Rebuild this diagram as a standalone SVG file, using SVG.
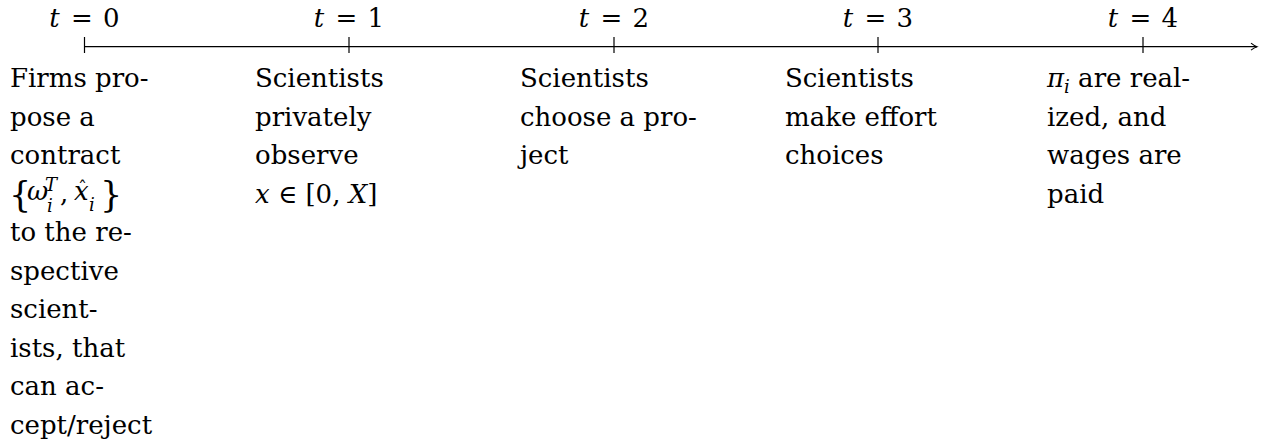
<svg xmlns="http://www.w3.org/2000/svg" width="1278" height="446" viewBox="0 0 1278 446">
<style>
text{font-family:'DejaVu Serif','Liberation Serif',serif;font-size:26px;fill:#000}
.it{font-style:italic}
.s{font-size:18px}
.br{font-size:35px}
.ax{stroke:#000;stroke-width:1.2;fill:none}
</style>
<defs>
<marker id="arr" markerWidth="10" markerHeight="10" refX="8" refY="5" orient="auto" markerUnits="userSpaceOnUse">
<path d="M2,1.5 Q5,4 8,5 Q5,6 2,8.5" stroke="#000" stroke-width="1.1" fill="none"/>
</marker>
</defs>
<rect width="1278" height="446" fill="#fff"/>
<g id="connectors">
<line class="ax" x1="84.5" y1="46.7" x2="1257" y2="46.7" marker-end="url(#arr)"/>
</g>
<g id="t0">
<line class="ax" x1="84.5" y1="37" x2="84.5" y2="53"/>
<text x="84.5" y="27" text-anchor="middle"><tspan class="it">t</tspan><tspan dx="3"> = </tspan><tspan dx="2">0</tspan></text>
<text x="10" y="87">Firms pro-</text>
<text x="10" y="125.5">pose a</text>
<text x="10" y="164">contract</text>
<text x="9" y="207"><tspan class="br">{</tspan><tspan class="it" x="27" y="200">ω</tspan><tspan class="it s" x="45" y="191">T</tspan><tspan class="it s" x="47" y="212">i</tspan><tspan x="60" y="202">,</tspan><tspan class="it" x="74" y="200">x</tspan><tspan class="s" x="78" y="195">ˆ</tspan><tspan class="it s" x="89" y="211">i</tspan><tspan class="br" x="100" y="207">}</tspan></text>
<text x="10" y="241">to the re-</text>
<text x="10" y="279.5">spective</text>
<text x="10" y="318">scient-</text>
<text x="10" y="356.5">ists, that</text>
<text x="10" y="395">can ac-</text>
<text x="10" y="433.5">cept/reject</text>
</g>
<g id="t1">
<line class="ax" x1="349" y1="37" x2="349" y2="53"/>
<text x="349" y="27" text-anchor="middle"><tspan class="it">t</tspan><tspan dx="3"> = </tspan><tspan dx="2">1</tspan></text>
<text x="255" y="87">Scientists</text>
<text x="255" y="125.5">privately</text>
<text x="255" y="164">observe</text>
<text x="255" y="202.5"><tspan class="it">x</tspan> ∈ [0, <tspan class="it">X</tspan>]</text>
</g>
<g id="t2">
<line class="ax" x1="614" y1="37" x2="614" y2="53"/>
<text x="614" y="27" text-anchor="middle"><tspan class="it">t</tspan><tspan dx="3"> = </tspan><tspan dx="2">2</tspan></text>
<text x="520" y="87">Scientists</text>
<text x="520" y="125.5">choose a pro-</text>
<text x="520" y="164">ject</text>
</g>
<g id="t3">
<line class="ax" x1="878" y1="37" x2="878" y2="53"/>
<text x="878" y="27" text-anchor="middle"><tspan class="it">t</tspan><tspan dx="3"> = </tspan><tspan dx="2">3</tspan></text>
<text x="785" y="87">Scientists</text>
<text x="785" y="125.5">make effort</text>
<text x="785" y="164">choices</text>
</g>
<g id="t4">
<line class="ax" x1="1143" y1="37" x2="1143" y2="53"/>
<text x="1143" y="27" text-anchor="middle"><tspan class="it">t</tspan><tspan dx="3"> = </tspan><tspan dx="2">4</tspan></text>
<text x="1047" y="87"><tspan class="it">π</tspan><tspan class="it s" dy="6">i</tspan><tspan dy="-6"> are real-</tspan></text>
<text x="1047" y="125.5">ized, and</text>
<text x="1047" y="164">wages are</text>
<text x="1047" y="202.5">paid</text>
</g>
</svg>
